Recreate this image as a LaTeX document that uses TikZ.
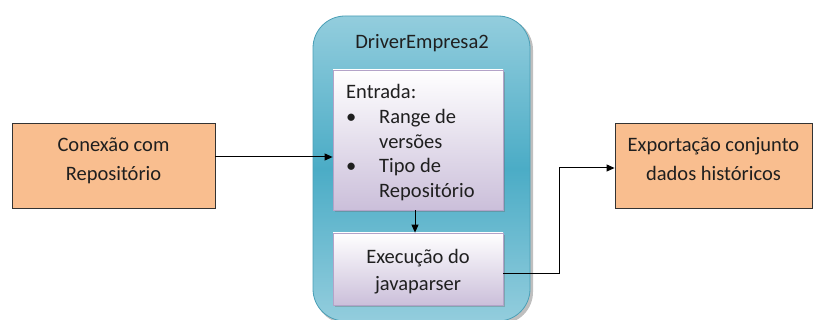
\documentclass[tikz,border=0pt]{standalone}
\usepackage{fontspec}
\setmainfont{Carlito}
\usetikzlibrary{arrows.meta,shadows}
\definecolor{orangebox}{HTML}{F9BE8F}
\definecolor{tealmid}{HTML}{4BACC6}
\definecolor{teallight}{HTML}{93CDDD}
\definecolor{tealedge}{HTML}{4A9FB6}
\definecolor{lavbot}{HTML}{CBBFDA}
\definecolor{lavedge}{HTML}{B3A3C8}
\definecolor{txt}{HTML}{1F1F1F}
\tikzset{
  orangebox/.style={draw=black!80, line width=0.9pt, fill=orangebox, inner sep=0pt},
  innerbox/.style={draw=lavedge, line width=0.8pt, top color=white, bottom color=lavbot, inner sep=0pt,
     drop shadow={shadow xshift=2pt, shadow yshift=-2pt, opacity=0.35, fill=black!60}},
  lbl/.style={font=\fontsize{20.5}{28.5}\selectfont, text=txt, inner sep=0pt, align=center},
  conn/.style={line width=1pt, black, -{Triangle[length=8pt,width=7pt]}},
}
\begin{document}
\begin{tikzpicture}[x=1pt,y=-1pt]
\useasboundingbox (0,0) rectangle (813,320);
\clip (0,0) rectangle (813,320);
% outer container
\fill[black, opacity=0.25, rounded corners=32pt] (315,18) rectangle (533,324);
\shade[top color=teallight, bottom color=teallight, middle color=tealmid, rounded corners=32pt]
  (313,16) rectangle (530,321);
\draw[tealedge, line width=0.8pt, rounded corners=32pt] (313,16) rectangle (530,321);
\node[lbl] (title) at (422,43) {DriverEmpresa2};
% inner boxes
\node[innerbox, minimum width=170pt, minimum height=140pt] (inp) at (418,140) {};
\node[lbl, anchor=north west, align=left, font=\fontsize{20.5}{24.8}\selectfont] (inptxt) at (346,84)
  {Entrada:\\\makebox[33pt][l]{•}Range de\\\hspace*{33pt}versões\\\makebox[33pt][l]{•}Tipo de\\\hspace*{33pt}Repositório};
\node[innerbox, minimum width=170pt, minimum height=72pt] (exe) at (418,269) {};
\node[lbl, font=\fontsize{20.5}{27}\selectfont] (exetxt) at (418,272) {Execução do\\javaparser};
% side boxes
\node[orangebox, minimum width=203pt, minimum height=85pt] (conex) at (113.5,165.5) {};
\node[lbl] (conextxt) at (113.5,161) {Conexão com\\Repositório};
\node[orangebox, minimum width=197pt, minimum height=85pt] (expo) at (713.5,165.5) {};
\node[lbl] (expotxt) at (713.5,159) {Exportação conjunto\\dados históricos};
% connectors
\coordinate (bend) at (559,273);
\draw[conn] (conex.east |- 0,157) -- (inp.west |- 0,157);
\draw[conn] (inp.south -| 415,0) -- (exe.north -| 415,0);
\draw[conn] (exe.east |- bend) -- (bend) |- (expo.west |- 0,168);
\end{tikzpicture}
\end{document}
